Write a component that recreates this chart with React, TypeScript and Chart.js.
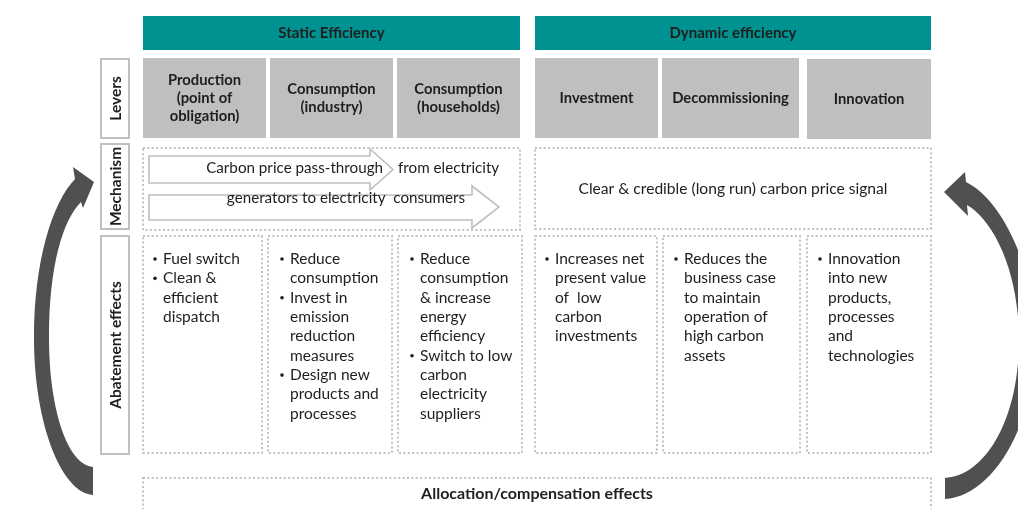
import { useEffect, useRef } from "react";
import { Chart, registerables } from "chart.js";

Chart.register(...registerables);

// ---------- data (texts of the diagram) ----------
const HEADERS = ["Static Efficiency", "Dynamic efficiency"];
const ROW_LABELS = ["Levers", "Mechanism", "Abatement effects"];
const LEVERS = [
  ["Production", "(point of", "obligation)"],
  ["Consumption", "(industry)"],
  ["Consumption", "(households)"],
  ["Investment"],
  ["Decommissioning"],
  ["Innovation"],
];
const MECH_STATIC_LINE1 = ["Carbon price pass-through", "from electricity"];
const MECH_STATIC_LINE2 = ["generators to electricity  consumers"];
const MECH_DYNAMIC = ["Clear & credible (long run) carbon price signal"];
const EFFECTS = [
  ["• Fuel switch", "• Clean &", "efficient", "dispatch"],
  ["• Reduce", "consumption", "• Invest in", "emission", "reduction", "measures", "• Design new", "products and", "processes"],
  ["• Reduce", "consumption", "& increase", "energy", "efficiency", "• Switch to low", "carbon", "electricity", "suppliers"],
  ["• Increases net", "present value", "of  low", "carbon", "investments"],
  ["• Reduces the", "business case", "to maintain", "operation of", "high carbon", "assets"],
  ["• Innovation", "into new", "products,", "processes", "and", "technologies"],
];
const ALLOCATION = ["Allocation/compensation effects"];

// ---------- layout ----------
const W = 1018;
const H = 509;
const FONT = "Lato";
const TEAL = "#009290";
const GREY = "#bfbfbf";
const DOT = "#c2c2c2";
const TXT = "#1e1e1e";
const ARROW = "#505050";

const HEADER_X = [[143, 520], [535, 931]];
const LEVER_X = [[143, 266], [270, 393], [397, 520], [535, 658], [662, 799], [807, 931]];
const LEVER_Y = [[58, 138], [58, 138], [58, 138], [58, 138], [58, 138], [59, 139]];
const EFFECT_X = [[143, 262], [268, 392], [398, 522], [535, 657], [663, 800], [807, 931]];
const EFFECT_TEXT_X = [163, 290, 420, 555, 684, 828];
const LABEL_BOXES = [[101, 59, 129, 138], [101, 144, 129, 229], [101, 236, 129, 454]];

const diagramPlugin = {
  id: "diagram",
  afterDraw(chart: any) {
    const ctx: CanvasRenderingContext2D = chart.ctx;
    const sx = chart.scales.x;
    const sy = chart.scales.y;
    const X = (v: number) => sx.getPixelForValue(v);
    const Y = (v: number) => sy.getPixelForValue(v);

    const dotted = (x1: number, y1: number, x2: number, y2: number) => {
      ctx.save();
      ctx.strokeStyle = DOT;
      ctx.lineWidth = 2;
      ctx.setLineDash([2, 2.4]);
      ctx.strokeRect(X(x1), Y(y1), X(x2) - X(x1), Y(y2) - Y(y1));
      ctx.restore();
    };
    const text = (s: string, x: number, y: number, size: number, bold: boolean, align: CanvasTextAlign = "center", color = TXT) => {
      ctx.font = `${bold ? "bold " : ""}${size}px ${FONT}`;
      ctx.fillStyle = color;
      ctx.textAlign = align;
      ctx.textBaseline = "middle";
      ctx.fillText(s, X(x), Y(y));
    };

    ctx.save();
    ctx.fillStyle = "#ffffff";
    ctx.fillRect(0, 0, chart.width, chart.height);

    // headers
    HEADERS.forEach((h, i) => {
      const [a, b] = HEADER_X[i];
      ctx.fillStyle = TEAL;
      ctx.fillRect(X(a), Y(16), X(b) - X(a), Y(50) - Y(16));
      text(h, (a + b) / 2, 33.5, 15, true);
    });

    // levers
    LEVERS.forEach((lines, i) => {
      const [a, b] = LEVER_X[i];
      const [t, btm] = LEVER_Y[i];
      ctx.fillStyle = GREY;
      ctx.fillRect(X(a), Y(t), X(b) - X(a), Y(btm) - Y(t));
      const lh = 18;
      const cy = (t + btm) / 2;
      lines.forEach((l, j) => {
        text(l, (a + b) / 2, cy + (j - (lines.length - 1) / 2) * lh, 14.8, true);
      });
    });

    // row labels
    ROW_LABELS.forEach((l, i) => {
      const [x1, y1, x2, y2] = LABEL_BOXES[i];
      ctx.fillStyle = "#fff";
      ctx.strokeStyle = GREY;
      ctx.lineWidth = 2;
      ctx.setLineDash([]);
      ctx.fillRect(X(x1), Y(y1), X(x2) - X(x1), Y(y2) - Y(y1));
      ctx.strokeRect(X(x1), Y(y1), X(x2) - X(x1), Y(y2) - Y(y1));
      ctx.save();
      ctx.translate(X((x1 + x2) / 2), Y((y1 + y2) / 2));
      ctx.rotate(-Math.PI / 2);
      ctx.font = `bold 15.5px ${FONT}`;
      ctx.fillStyle = TXT;
      ctx.textAlign = "center";
      ctx.textBaseline = "middle";
      ctx.fillText(l, 0, 1);
      ctx.restore();
    });

    // mechanism boxes
    dotted(143, 148, 520, 230);
    dotted(535, 148, 931, 229);

    const outlineArrow = (x0: number, xb: number, xt: number, bt: number, bb: number, ht: number, hb: number) => {
      ctx.beginPath();
      ctx.moveTo(X(x0), Y(bt));
      ctx.lineTo(X(xb), Y(bt));
      ctx.lineTo(X(xb), Y(ht));
      ctx.lineTo(X(xt), Y((ht + hb) / 2));
      ctx.lineTo(X(xb), Y(hb));
      ctx.lineTo(X(xb), Y(bb));
      ctx.lineTo(X(x0), Y(bb));
      ctx.closePath();
      ctx.fillStyle = "#fff";
      ctx.fill();
      ctx.strokeStyle = GREY;
      ctx.lineWidth = 1.6;
      ctx.setLineDash([]);
      ctx.stroke();
    };
    outlineArrow(149, 370, 393, 156, 183, 149, 190);
    outlineArrow(149, 472, 499, 195, 220, 186, 228);

    text(MECH_STATIC_LINE1[0], 383, 168, 15.2, false, "right");
    text(MECH_STATIC_LINE1[1], 398, 168, 15.2, false, "left");
    text(MECH_STATIC_LINE2[0], 346, 198, 15.2, false, "center");
    text(MECH_DYNAMIC[0], 733, 189, 15.6, false, "center");

    // abatement effects
    EFFECTS.forEach((lines, i) => {
      const [a, b] = EFFECT_X[i];
      dotted(a, 236, b, 453);
      const tx = EFFECT_TEXT_X[i];
      lines.forEach((l, j) => {
        const y = 259 + j * 19.35;
        if (l.startsWith("• ")) {
          ctx.beginPath();
          ctx.fillStyle = TXT;
          ctx.arc(X(tx - 8), Y(y), 1.8, 0, Math.PI * 2);
          ctx.fill();
          text(l.slice(2), tx, y, 15.5, false, "left");
        } else {
          text(l, tx, y, 15.5, false, "left");
        }
      });
    });

    // allocation
    dotted(143, 478, 931, 520);
    text(ALLOCATION[0], 537, 494, 16, true);

    // curved arrows
    ctx.fillStyle = ARROW;
    ctx.beginPath();
    ctx.moveTo(X(93), Y(495));
    ctx.bezierCurveTo(X(62), Y(493), X(34), Y(425), X(34), Y(338));
    ctx.bezierCurveTo(X(34), Y(262), X(52), Y(203), X(75), Y(179));
    ctx.lineTo(X(73), Y(167));
    ctx.lineTo(X(94), Y(182));
    ctx.lineTo(X(83), Y(208));
    ctx.lineTo(X(81), Y(202));
    ctx.bezierCurveTo(X(63), Y(220), X(49), Y(265), X(49), Y(338));
    ctx.bezierCurveTo(X(49), Y(405), X(66), Y(464), X(93), Y(467));
    ctx.closePath();
    ctx.fill();

    ctx.beginPath();
    ctx.moveTo(X(945), Y(499));
    ctx.bezierCurveTo(X(990), Y(497), X(1035), Y(430), X(1035), Y(340));
    ctx.bezierCurveTo(X(1035), Y(265), X(1000), Y(198), X(966), Y(182));
    ctx.lineTo(X(965), Y(172));
    ctx.lineTo(X(944), Y(192));
    ctx.lineTo(X(968), Y(216));
    ctx.lineTo(X(967), Y(205));
    ctx.bezierCurveTo(X(993), Y(220), X(1019), Y(270), X(1019), Y(340));
    ctx.bezierCurveTo(X(1019), Y(420), X(985), Y(476), X(945), Y(478));
    ctx.closePath();
    ctx.fill();

    ctx.restore();
  },
};

export default function App() {
  const ref = useRef<HTMLCanvasElement | null>(null);
  useEffect(() => {
    document.body.style.margin = "0";
    document.body.style.overflow = "hidden";
    if (!ref.current) return;
    const chart = new Chart(ref.current, {
      type: "scatter",
      data: { datasets: [{ data: [], pointRadius: 0 }] },
      options: {
        responsive: false,
        animation: false,
        devicePixelRatio: 1,
        layout: { padding: 0 },
        plugins: { legend: { display: false }, tooltip: { enabled: false } },
        scales: {
          x: { type: "linear", min: 0, max: W, display: false },
          y: { type: "linear", min: 0, max: H, reverse: true, display: false },
        },
      },
      plugins: [diagramPlugin],
    } as any);
    return () => chart.destroy();
  }, []);
  return <canvas ref={ref} width={W} height={H} style={{ display: "block" }} />;
}
